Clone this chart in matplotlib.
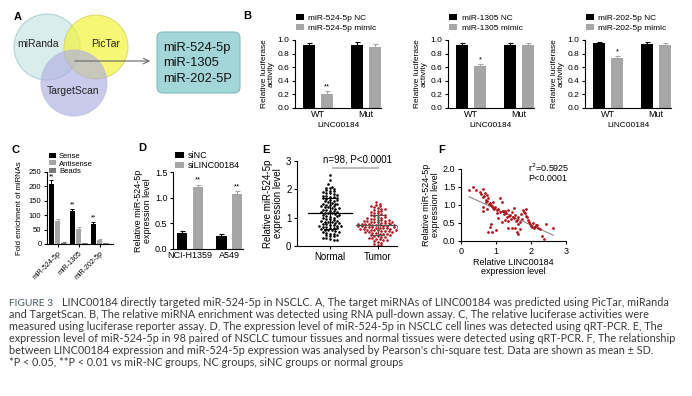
import numpy as np
import matplotlib
matplotlib.use("Agg")
import matplotlib.pyplot as plt
from matplotlib.patches import Circle, FancyBboxPatch

plt.rcParams["font.family"] = ["Liberation Sans", "DejaVu Sans"]
plt.rcParams["axes.linewidth"] = 0.8

W, H = 692, 396

# ===== data =====
# B: luciferase reporter
b_groups = ["WT", "Mut"]
b_titles = ["miR-524-5p", "miR-1305", "miR-202-5p"]
b_nc = [[0.92, 0.93], [0.93, 0.93], [0.95, 0.94]]
b_nc_err = [[0.03, 0.04], [0.03, 0.03], [0.02, 0.03]]
b_mimic = [[0.21, 0.90], [0.62, 0.92], [0.73, 0.92]]
b_mimic_err = [[0.04, 0.04], [0.03, 0.04], [0.04, 0.03]]
b_stars = ["**", "*", "*"]

# C: RNA pull-down
c_mirs = ["miR-524-5p", "miR-1305", "miR-202-5p"]
c_sense = [208, 113, 71]
c_sense_err = [13, 10, 6]
c_antisense = [80, 53, 15]
c_antisense_err = [6, 6, 3]
c_beads = [5, 4, 4]
c_beads_err = [1, 1, 1]

# D: qRT-PCR in cell lines
d_cells = ["NCI-H1359", "A549"]
d_sinc = [0.32, 0.26]
d_sinc_err = [0.04, 0.04]
d_silinc = [1.21, 1.08]
d_silinc_err = [0.04, 0.05]

# E: tissues
normal_expr = [2.50, 2.32, 2.18, 2.10, 2.06, 2.04, 2.00, 1.98,
               1.95, 1.93, 1.90, 1.88, 1.86, 1.84, 1.80, 1.78,
               1.75, 1.73, 1.72, 1.70, 1.68, 1.66, 1.63, 1.60,
               1.58, 1.55, 1.52, 1.50, 1.48, 1.45, 1.43, 1.41,
               1.40, 1.38, 1.36, 1.33, 1.30, 1.28, 1.27, 1.25,
               1.23, 1.21, 1.20, 1.18, 1.16, 1.15, 1.12, 1.10,
               1.08, 1.05, 1.03, 1.00, 0.98, 0.96, 0.95, 0.93,
               0.90, 0.88, 0.86, 0.85, 0.83, 0.80, 0.78, 0.77,
               0.75, 0.73, 0.72, 0.70, 0.68, 0.67, 0.65, 0.63,
               0.62, 0.60, 0.58, 0.57, 0.55, 0.53, 0.50, 0.48,
               0.46, 0.44, 0.42, 0.40, 0.38, 0.36, 0.34, 0.30,
               0.28, 0.25, 0.22, 0.20, 1.62, 1.35, 1.07, 0.81, 0.69, 1.47]
tumor_expr = [1.55, 1.50, 1.46, 1.42, 1.40, 1.37, 1.35, 1.32,
              1.30, 1.27, 1.25, 1.22, 1.20, 1.18, 1.15, 1.12,
              1.10, 1.08, 1.05, 1.03, 1.00, 0.98, 0.96, 0.95,
              0.93, 0.92, 0.90, 0.88, 0.87, 0.86, 0.85, 0.83,
              0.82, 0.81, 0.80, 0.79, 0.78, 0.77, 0.76, 0.75,
              0.74, 0.73, 0.72, 0.71, 0.70, 0.69, 0.68, 0.67,
              0.66, 0.65, 0.64, 0.63, 0.62, 0.61, 0.60, 0.59,
              0.58, 0.57, 0.56, 0.55, 0.54, 0.53, 0.52, 0.50,
              0.49, 0.48, 0.46, 0.45, 0.44, 0.42, 0.41, 0.40,
              0.38, 0.37, 0.35, 0.33, 0.31, 0.30, 0.28, 0.26,
              0.24, 0.22, 0.20, 0.18, 0.15, 0.12, 0.08, 0.04,
              0.02, 0.84, 0.79, 0.74, 0.68, 0.63, 0.57, 0.91, 1.02, 0.71]

# F: correlation
f_linc = [0.23, 0.33, 0.43, 0.54, 0.64, 0.69, 0.75, 0.62, 0.78, 0.71,
          0.83, 0.88, 0.64, 0.62, 0.75, 0.92, 1.02, 0.98, 1.11, 1.16,
          1.21, 1.29, 1.35, 1.32, 1.40, 1.45, 1.50, 1.54, 1.59, 1.64,
          1.69, 1.78, 1.83, 1.86, 1.88, 1.92, 1.97, 2.02, 2.09, 2.14,
          2.21, 2.30, 2.37, 2.43, 2.64, 0.85, 0.83, 0.88, 0.78, 1.00,
          1.35, 1.45, 1.54, 1.59, 1.64, 1.69, 1.16, 1.25, 1.07, 1.02,
          1.11, 0.58, 0.67, 0.72, 0.80, 0.86, 0.95, 1.05, 1.19, 1.24,
          1.27, 1.38, 1.42, 1.48, 1.57, 1.62, 1.73, 1.80, 1.95, 2.00,
          2.05, 2.12, 2.18, 1.70, 1.52, 1.33, 0.90, 0.73, 1.85, 2.25]
f_mir = [1.41, 1.51, 1.42, 1.37, 1.44, 1.32, 1.28, 1.23, 1.19, 1.09,
         1.05, 0.98, 0.95, 0.83, 0.89, 0.91, 0.86, 0.95, 1.20, 1.09,
         0.83, 0.77, 0.86, 0.68, 0.72, 0.81, 0.63, 0.72, 0.58, 0.68,
         0.52, 0.86, 0.77, 0.89, 0.68, 0.58, 0.46, 0.40, 0.35, 0.44,
         0.37, 0.15, 0.06, 0.46, 0.37, 0.46, 0.40, 0.26, 0.24, 0.30,
         0.37, 0.37, 0.35, 0.26, 0.19, 0.33, 0.54, 0.58, 0.65, 0.77,
         0.80, 1.30, 1.25, 1.15, 1.02, 1.00, 0.90, 0.88, 0.82, 0.75,
         0.84, 0.70, 0.60, 0.66, 0.55, 0.48, 0.62, 0.80, 0.52, 0.42,
         0.50, 0.40, 0.45, 0.74, 0.92, 0.56, 1.08, 1.12, 0.70, 0.33]

caption_lines = [
    "LINC00184 directly targeted miR-524-5p in NSCLC. A, The target miRNAs of LINC00184 was predicted using PicTar, miRanda",
    "and TargetScan. B, The relative miRNA enrichment was detected using RNA pull-down assay. C, The relative luciferase activities were",
    "measured using luciferase reporter assay. D, The expression level of miR-524-5p in NSCLC cell lines was detected using qRT-PCR. E, The",
    "expression level of miR-524-5p in 98 paired of NSCLC tumour tissues and normal tissues were detected using qRT-PCR. F, The relationship",
    "between LINC00184 expression and miR-524-5p expression was analysed by Pearson's chi-square test. Data are shown as mean \u00b1 SD.",
    "*P < 0.05, **P < 0.01 vs miR-NC groups, NC groups, siNC groups or normal groups",
]

BLACK = "#000000"
GREY = "#a6a6a6"
DARKGREY = "#7a7a7a"
RED = "#b3121b"

fig = plt.figure(figsize=(W / 100, H / 100), dpi=100)


def px_axes(left, top, right, bottom):
    return fig.add_axes([left / W, 1 - bottom / H, (right - left) / W, (bottom - top) / H])


def style(ax, fs=6):
    ax.spines["top"].set_visible(False)
    ax.spines["right"].set_visible(False)
    ax.tick_params(labelsize=fs, length=2.5, width=0.8, pad=1.5)


def swarm_offsets(vals, bin_h, step):
    vals = np.asarray(vals)
    bins = np.floor(vals / bin_h).astype(int)
    offs = np.zeros(len(vals))
    for b in np.unique(bins):
        idx = np.where(bins == b)[0]
        offs[idx] = (np.arange(len(idx)) - (len(idx) - 1) / 2) * step
    return offs


# ===== A: Venn + box (drawn in pixel space) =====
canvas = fig.add_axes([0, 0, 1, 1], zorder=-1)
canvas.set_xlim(0, W)
canvas.set_ylim(H, 0)
canvas.axis("off")
canvas.add_patch(Circle((47, 47), 33, facecolor="#d3eaea", edgecolor="#a9cccc", lw=0.8, alpha=0.85))
canvas.add_patch(Circle((96, 47), 32, facecolor="#f4f43c", edgecolor="#d0d060", lw=0.8, alpha=0.7))
canvas.add_patch(Circle((74, 83), 33, facecolor="#aeaee2", edgecolor="#b8b8dc", lw=0.8, alpha=0.65))
canvas.text(38, 44, "miRanda", fontsize=7.5, ha="center", va="center", color="#222222")
canvas.text(106, 44, "PicTar", fontsize=7.5, ha="center", va="center", color="#222222")
canvas.text(73, 91, "TargetScan", fontsize=7.5, ha="center", va="center", color="#222222")
canvas.annotate("", xy=(153, 61), xytext=(72, 61),
                arrowprops=dict(arrowstyle="->", color="#666666", lw=0.8))
canvas.add_patch(FancyBboxPatch((160, 35), 77, 55, boxstyle="round,pad=3,rounding_size=6",
                                facecolor="#a3d6d8", edgecolor="#7fbcc0", lw=0.8))
for i, name in enumerate(["miR-524-5p", "miR-1305", "miR-202-5P"]):
    canvas.text(163, 48 + i * 15.5, name, fontsize=9.3, ha="left", va="center", color="#111111")

for lab, x, y in [("A", 14, 17), ("B", 243, 16), ("C", 12, 150), ("D", 138, 148), ("E", 262, 150), ("F", 438, 150)]:
    canvas.text(x, y, lab, fontsize=8, fontweight="bold", ha="left", va="center")

# ===== B: three luciferase panels =====
b_left = [295, 448, 585]
x = np.arange(len(b_groups))
for k in range(3):
    ax = px_axes(b_left[k], 40, b_left[k] + 86, 108)
    style(ax)
    h1 = ax.bar(x - 0.19, b_nc[k], 0.25, color=BLACK, yerr=b_nc_err[k],
                error_kw=dict(ecolor=BLACK, capsize=1.8, elinewidth=0.8, capthick=0.8),
                label=b_titles[k] + " NC")
    h2 = ax.bar(x + 0.19, b_mimic[k], 0.25, color=GREY, yerr=b_mimic_err[k],
                error_kw=dict(ecolor=GREY, capsize=1.8, elinewidth=0.8, capthick=0.8),
                label=b_titles[k] + " mimic")
    ax.text(x[0] + 0.19, b_mimic[k][0] + b_mimic_err[k][0] + 0.01, b_stars[k],
            fontsize=5.5, ha="center", va="bottom")
    ax.set_xlim(-0.48, 1.31)
    ax.set_ylim(0, 1.0)
    ax.set_yticks([0, 0.2, 0.4, 0.6, 0.8, 1.0])
    ax.set_xticks(x)
    ax.set_xticklabels(b_groups, fontsize=6.5)
    ax.tick_params(axis="x", length=0)
    ax.set_xlabel("LINC00184", fontsize=6, labelpad=2)
    ax.set_ylabel("Relative luciferase\nactivity", fontsize=6, labelpad=2, linespacing=1.0)
    ax.legend(handles=[h1, h2], loc="upper left", bbox_to_anchor=((b_left[k] + 1) / W, 1 - 14 / H),
              bbox_transform=fig.transFigure, frameon=False, fontsize=6, handlelength=1.0,
              handleheight=0.7, borderpad=0, labelspacing=0.3, handletextpad=0.5, borderaxespad=0)

# ===== C: pull-down =====
ax = px_axes(47, 172, 113, 244)
style(ax, 5.5)
xc = np.arange(len(c_mirs))
ek = dict(capsize=1.2, elinewidth=0.7, capthick=0.7)
hc1 = ax.bar(xc - 0.3, c_sense, 0.25, color=BLACK, yerr=c_sense_err, error_kw=dict(ecolor=BLACK, **ek), label="Sense")
hc2 = ax.bar(xc, c_antisense, 0.25, color=GREY, yerr=c_antisense_err, error_kw=dict(ecolor=GREY, **ek), label="Antisense")
hc3 = ax.bar(xc + 0.3, c_beads, 0.25, color=DARKGREY, yerr=c_beads_err, error_kw=dict(ecolor=DARKGREY, **ek), label="Beads")
for i in range(len(c_mirs)):
    ax.text(xc[i] - 0.3, c_sense[i] + c_sense_err[i] + 1, "**", fontsize=5, ha="center", va="bottom")
ax.set_xlim(-0.5, 2.64)
ax.set_ylim(0, 250)
ax.set_yticks([0, 50, 100, 150, 200, 250])
ax.set_xticks(xc)
ax.set_xticklabels(c_mirs, rotation=45, ha="right", rotation_mode="anchor", fontsize=5)
ax.set_ylabel("Fold enrichment of miRNAs", fontsize=5.5, labelpad=4)
ax.legend(handles=[hc1, hc2, hc3], loc="upper left", bbox_to_anchor=(49 / W, 1 - 153 / H),
          bbox_transform=fig.transFigure, frameon=False, fontsize=5.5, handlelength=0.9,
          handleheight=0.6, borderpad=0, labelspacing=0.05, handletextpad=0.4, borderaxespad=0)

# ===== D: cell lines =====
ax = px_axes(173, 172, 243, 249)
style(ax, 6.5)
xd = np.arange(len(d_cells))
ek = dict(capsize=1.8, elinewidth=0.8, capthick=0.8)
hd1 = ax.bar(xd - 0.2, d_sinc, 0.26, color=BLACK, yerr=d_sinc_err, error_kw=dict(ecolor=BLACK, **ek), label="siNC")
hd2 = ax.bar(xd + 0.2, d_silinc, 0.26, color=GREY, yerr=d_silinc_err, error_kw=dict(ecolor=GREY, **ek), label="siLINC00184")
for i in range(len(d_cells)):
    ax.text(xd[i] + 0.2, d_silinc[i] + d_silinc_err[i] + 0.02, "**", fontsize=5.5, ha="center", va="bottom")
ax.set_xlim(-0.44, 1.35)
ax.set_ylim(0, 1.5)
ax.set_yticks([0, 0.5, 1.0, 1.5])
ax.set_xticks(xd)
ax.set_xticklabels(d_cells)
ax.tick_params(axis="x", length=0)
ax.set_ylabel("Relative miR-524-5p\nexpression level", fontsize=6.5, labelpad=2, linespacing=1.0)
ax.legend(handles=[hd1, hd2], loc="upper left", bbox_to_anchor=(175 / W, 1 - 151 / H),
          bbox_transform=fig.transFigure, frameon=False, fontsize=6.5, handlelength=1.0,
          handleheight=0.7, borderpad=0, labelspacing=0.15, handletextpad=0.4, borderaxespad=0)

# ===== E: tissue dot plot =====
ax = px_axes(297, 161, 397, 246)
style(ax, 7)
for i, (vals, col, lcol) in enumerate([(normal_expr, BLACK, BLACK), (tumor_expr, RED, "#555555")]):
    offs = swarm_offsets(vals, 0.1, 0.075)
    ax.scatter(i + offs, vals, s=3.5, color=col, linewidths=0, zorder=2)
    m, sd = np.mean(vals), np.std(vals, ddof=1)
    ax.plot([i - 0.45, i + 0.45], [m, m], color=lcol, lw=0.9, zorder=3)
    ax.plot([i, i], [m - sd, m + sd], color=lcol, lw=0.8, zorder=3)
    ax.plot([i - 0.13, i + 0.13], [m + sd, m + sd], color=lcol, lw=0.8, zorder=3)
    ax.plot([i - 0.13, i + 0.13], [m - sd, m - sd], color=lcol, lw=0.8, zorder=3)
ax.plot([0.06, 1.0], [2.75, 2.75], color="#b0b0b0", lw=1.2, clip_on=False)
ax.text(0.58, 2.88, "n=98, P<0.0001", fontsize=7, ha="center", va="bottom")
ax.set_xlim(-0.69, 1.4)
ax.set_ylim(0, 3)
ax.set_yticks([0, 1, 2, 3])
ax.set_xticks([0, 1])
ax.set_xticklabels(["Normal", "Tumor"])
ax.set_ylabel("Relative miR-524-5p\nexpression level", fontsize=7, labelpad=2, linespacing=1.0)

# ===== F: correlation =====
ax = px_axes(461, 169, 566, 241)
style(ax, 6.5)
ax.scatter(f_linc, f_mir, s=4, color=RED, linewidths=0, zorder=2)
slope, icpt = np.polyfit(f_linc, f_mir, 1)
xx = np.array([min(f_linc), max(f_linc)])
ax.plot(xx, slope * xx + icpt, color="#8a8a8a", lw=0.8, zorder=1)
ax.text(1.92, 2.2, "r$^2$=0.5925\nP<0.0001", fontsize=6.5, ha="left", va="top", linespacing=1.0)
ax.set_xlim(0, 3)
ax.set_ylim(0, 2.0)
ax.set_xticks([0, 1, 2, 3])
ax.set_yticks([0, 0.5, 1.0, 1.5, 2.0])
ax.set_xlabel("Relative LINC00184\nexpression level", fontsize=6.5, labelpad=2, linespacing=1.0)
ax.set_ylabel("Relative miR-524-5p\nexpression level", fontsize=6.5, labelpad=2, linespacing=1.0)

# ===== caption =====
cap_kw = dict(fontsize=7.8, family=["Lato", "DejaVu Sans"], color="#3a3a3a", va="center", ha="left")
fig.text(9 / W, 1 - 303 / H, "FIGURE 3", fontsize=7.4, family=["Lato", "DejaVu Sans"],
         color="#4a5a62", va="center", ha="left")
for i, line in enumerate(caption_lines):
    xs = 62 if i == 0 else 9
    fig.text(xs / W, 1 - (303 + i * 11.9) / H, line, **cap_kw)

fig.savefig("out.png", dpi=100)
